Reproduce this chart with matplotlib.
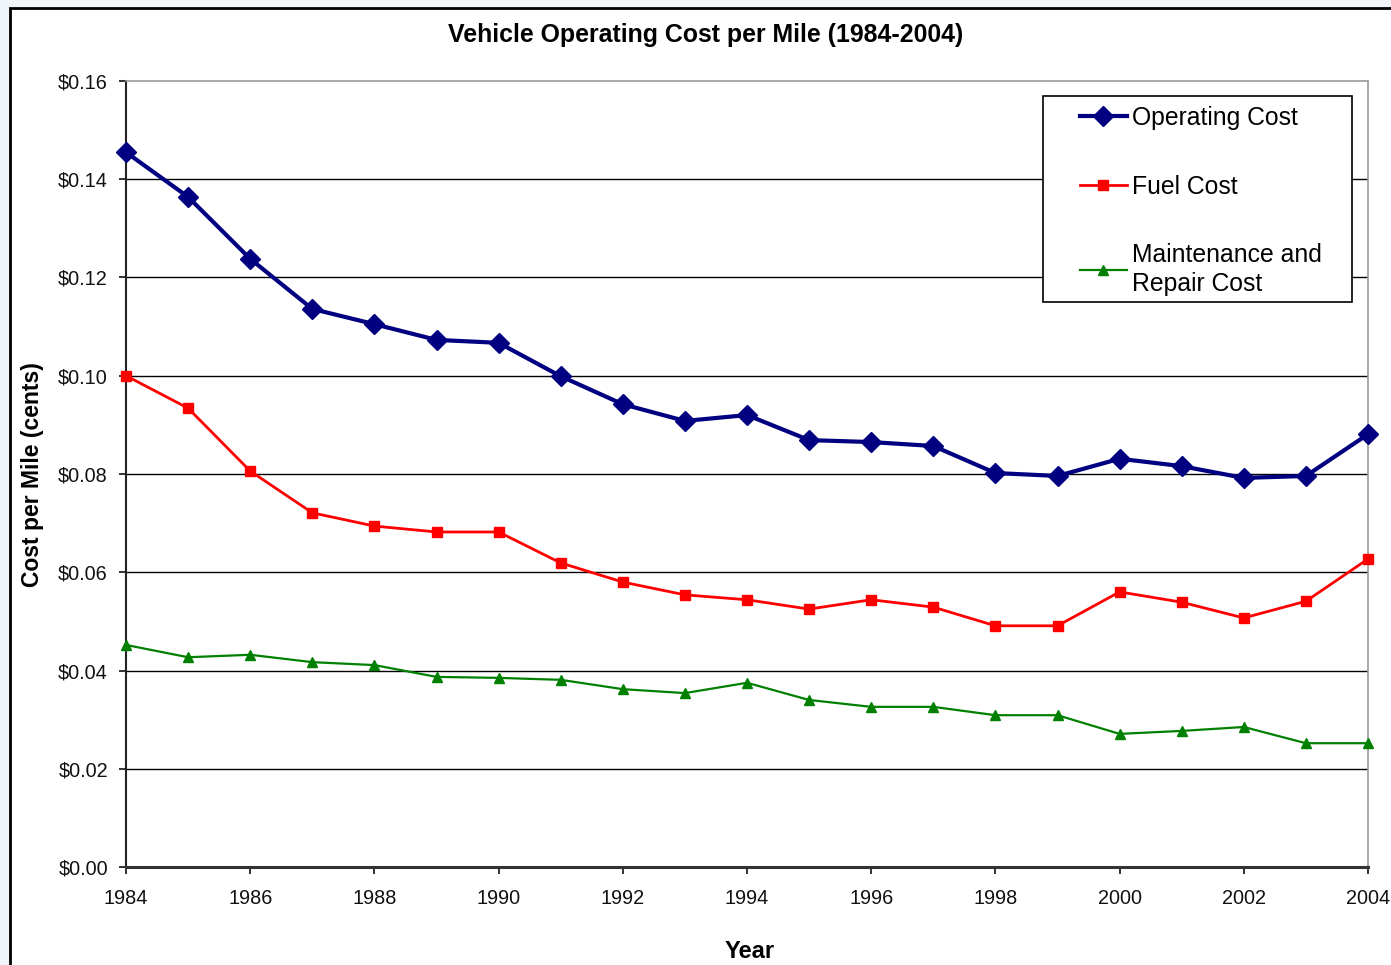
import matplotlib
matplotlib.use("Agg")
import matplotlib.pyplot as plt
from matplotlib.patches import Rectangle
from matplotlib.ticker import FuncFormatter, MultipleLocator

years = list(range(1984, 2005))
operating_cost = [0.1455, 0.1364, 0.1238, 0.1136, 0.1105, 0.1073, 0.1067, 0.0999,
                  0.0942, 0.0908, 0.0920, 0.0869, 0.0865, 0.0857, 0.0802, 0.0796,
                  0.0831, 0.0816, 0.0792, 0.0796, 0.0881]
fuel_cost = [0.1000, 0.0934, 0.0806, 0.0721, 0.0694, 0.0682, 0.0682, 0.0619,
             0.0580, 0.0554, 0.0544, 0.0525, 0.0544, 0.0529, 0.0491, 0.0491,
             0.0560, 0.0539, 0.0507, 0.0541, 0.0627]
maintenance_cost = [0.0452, 0.0427, 0.0432, 0.0417, 0.0411, 0.0387, 0.0385, 0.0381,
                    0.0362, 0.0354, 0.0375, 0.0340, 0.0326, 0.0326, 0.0309, 0.0309,
                    0.0271, 0.0277, 0.0285, 0.0252, 0.0252]
series_labels = ["Operating Cost", "Fuel Cost", "Maintenance and\nRepair Cost"]
title = "Vehicle Operating Cost per Mile (1984-2004)"
x_label = "Year"
y_label = "Cost per Mile (cents)"

plt.rcParams['font.family'] = ['Liberation Sans', 'DejaVu Sans']

W, H = 1391, 965
fig = plt.figure(figsize=(W / 100, H / 100), dpi=100)
fig.patch.set_facecolor('#f0f5fa')

# white chart area with black frame
fig.patches.append(Rectangle((10 / W, -0.1), 1.2, 1 - 8 / H + 0.1, transform=fig.transFigure,
                             facecolor='white', edgecolor='black', linewidth=2, zorder=-10))

ax = fig.add_axes([126 / W, 1 - 867 / H, (1368 - 126) / W, (867 - 81) / H])
ax.set_facecolor('white')

ax.set_xlim(1984, 2004)
ax.set_ylim(0, 0.16)
ax.yaxis.set_major_locator(MultipleLocator(0.02))
ax.xaxis.set_major_locator(MultipleLocator(2))
ax.yaxis.set_major_formatter(FuncFormatter(lambda v, p: f"${v:.2f}"))

for yv in [0.02, 0.04, 0.06, 0.08, 0.10, 0.12, 0.14]:
    ax.axhline(yv, color='black', linewidth=1.0, zorder=1)

ax.plot(years, operating_cost, color='#000080', marker='D', markersize=10, linewidth=3,
        label=series_labels[0], clip_on=False, zorder=5)
ax.plot(years, fuel_cost, color='#ff0000', marker='s', markersize=6.5, linewidth=2,
        label=series_labels[1], clip_on=False, zorder=4)
ax.plot(years, maintenance_cost, color='#008000', marker='^', markersize=6.5, linewidth=1.6,
        label=series_labels[2], clip_on=False, zorder=3)

for s in ['top', 'right']:
    ax.spines[s].set_color('#999999')
    ax.spines[s].set_linewidth(1.2)
ax.spines['left'].set_color('#222222')
ax.spines['left'].set_linewidth(1.5)
ax.spines['bottom'].set_color('#333333')
ax.spines['bottom'].set_linewidth(2.2)

ax.tick_params(axis='both', direction='out', length=5, width=1.3, color='#222222',
               labelsize=14.3, labelcolor='#111111')
ax.tick_params(axis='x', pad=11)
ax.tick_params(axis='y', pad=8)

fig.text(706 / W, 1 - 35 / H, title, ha='center', va='center', fontsize=17.9, fontweight='bold')
fig.text(750 / W, 1 - 951 / H, x_label, ha='center', va='center', fontsize=17, fontweight='bold')
fig.text(33 / W, 1 - 475 / H, y_label, ha='center', va='center', fontsize=16.5,
         fontweight='bold', rotation=90)

# legend frame (drawn as a box) and legend entries
ax.add_patch(Rectangle((1043 / W, 1 - 302 / H), (1352 - 1043) / W, (302 - 96) / H,
                       transform=fig.transFigure, facecolor='white', clip_on=False,
                       edgecolor='black', linewidth=1.2, zorder=6))
leg = ax.legend(loc='upper left', bbox_to_anchor=(1080 / W, 1 - 106 / H),
                bbox_transform=fig.transFigure, frameon=False,
                fontsize=17.8, labelspacing=1.8, handlelength=1.9,
                handletextpad=0.2, borderpad=0, borderaxespad=0)
leg.get_texts()[2].set_linespacing(1.27)
leg.set_zorder(7)

fig.savefig('out.png', dpi=100, facecolor=fig.get_facecolor())
